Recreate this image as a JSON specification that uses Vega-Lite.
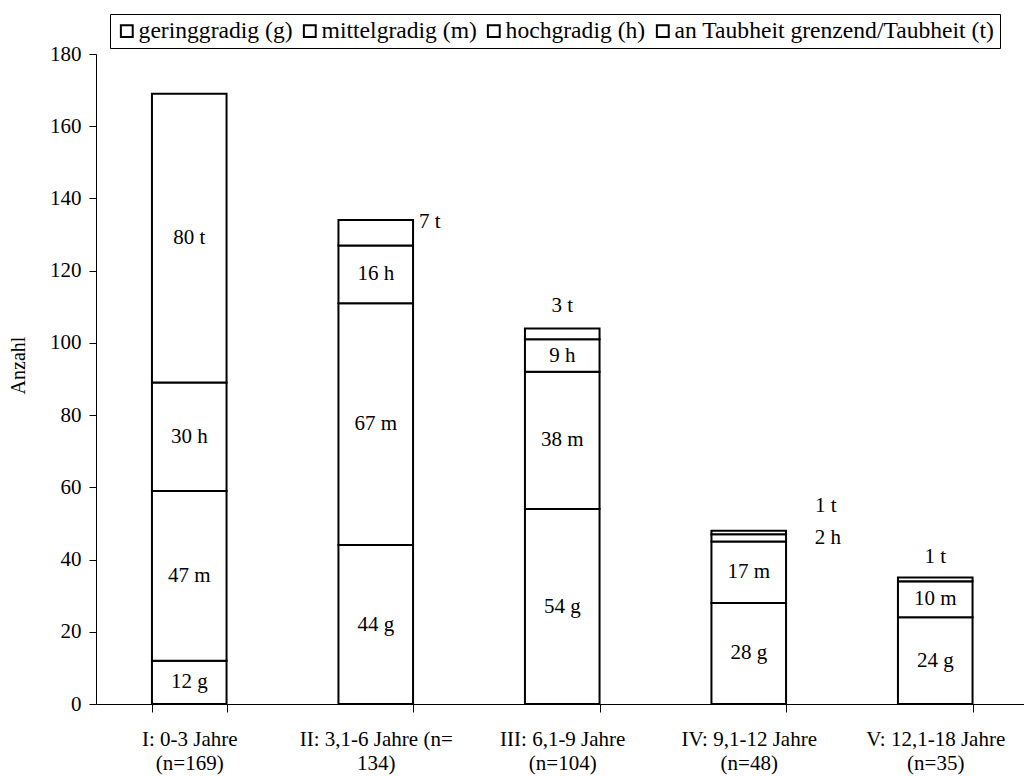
{
  "$schema": "https://vega.github.io/schema/vega-lite/v6.json",
  "autosize": "none",
  "width": 928,
  "height": 650,
  "padding": {"left": 96, "top": 54, "right": 0, "bottom": 72},
  "background": "white",
  "config": {
    "font": "Liberation Serif",
    "view": {"stroke": null},
    "axis": {"grid": false, "domainColor": "black", "tickColor": "black", "labelColor": "black", "titleColor": "black", "domainWidth": 1, "tickWidth": 1},
    "text": {"font": "Liberation Serif", "fontSize": 21, "color": "black", "baseline": "middle", "align": "center"}
  },
  "datasets": {
    "gruppen": [
      {"Stufe": "I", "Gruppe": "I: 0-3 Jahre\n(n=169)"},
      {"Stufe": "II", "Gruppe": "II: 3,1-6 Jahre  (n=\n134)"},
      {"Stufe": "III", "Gruppe": "III: 6,1-9 Jahre\n(n=104)"},
      {"Stufe": "IV", "Gruppe": "IV: 9,1-12 Jahre\n(n=48)"},
      {"Stufe": "V", "Gruppe": "V: 12,1-18 Jahre\n(n=35)"}
    ],
    "grade": [
      {"Kurz": "g", "Grad": "geringgradig (g)"},
      {"Kurz": "m", "Grad": "mittelgradig (m)"},
      {"Kurz": "h", "Grad": "hochgradig (h)"},
      {"Kurz": "t", "Grad": "an Taubheit grenzend/Taubheit (t)"}
    ],
    "werte": [
      {"Stufe": "I", "Kurz": "g", "Anzahl": 12},
      {"Stufe": "I", "Kurz": "m", "Anzahl": 47},
      {"Stufe": "I", "Kurz": "h", "Anzahl": 30},
      {"Stufe": "I", "Kurz": "t", "Anzahl": 80},
      {"Stufe": "II", "Kurz": "g", "Anzahl": 44},
      {"Stufe": "II", "Kurz": "m", "Anzahl": 67},
      {"Stufe": "II", "Kurz": "h", "Anzahl": 16},
      {"Stufe": "II", "Kurz": "t", "Anzahl": 7},
      {"Stufe": "III", "Kurz": "g", "Anzahl": 54},
      {"Stufe": "III", "Kurz": "m", "Anzahl": 38},
      {"Stufe": "III", "Kurz": "h", "Anzahl": 9},
      {"Stufe": "III", "Kurz": "t", "Anzahl": 3},
      {"Stufe": "IV", "Kurz": "g", "Anzahl": 28},
      {"Stufe": "IV", "Kurz": "m", "Anzahl": 17},
      {"Stufe": "IV", "Kurz": "h", "Anzahl": 2},
      {"Stufe": "IV", "Kurz": "t", "Anzahl": 1},
      {"Stufe": "V", "Kurz": "g", "Anzahl": 24},
      {"Stufe": "V", "Kurz": "m", "Anzahl": 10},
      {"Stufe": "V", "Kurz": "h", "Anzahl": 0},
      {"Stufe": "V", "Kurz": "t", "Anzahl": 1}
    ]
  },
  "data": {"name": "werte"},
  "transform": [
    {"lookup": "Stufe", "from": {"data": {"name": "gruppen"}, "key": "Stufe", "fields": ["Gruppe"]}},
    {"lookup": "Kurz", "from": {"data": {"name": "grade"}, "key": "Kurz", "fields": ["Grad"]}},
    {"calculate": "indexof(['g','m','h','t'], datum.Kurz)", "as": "Rang"},
    {"stack": "Anzahl", "groupby": ["Stufe"], "sort": [{"field": "Rang", "order": "ascending"}], "as": ["y0", "y1"]},
    {"calculate": "(datum.y0 + datum.y1) / 2", "as": "mid"},
    {"calculate": "datum.Anzahl + ' ' + datum.Kurz", "as": "Beschriftung"}
  ],
  "encoding": {
    "x": {
      "field": "Gruppe",
      "type": "nominal",
      "scale": {
        "domain": ["I: 0-3 Jahre\n(n=169)", "II: 3,1-6 Jahre  (n=\n134)", "III: 6,1-9 Jahre\n(n=104)", "IV: 9,1-12 Jahre\n(n=48)", "V: 12,1-18 Jahre\n(n=35)"],
        "range": [0, 932.5],
        "paddingInner": 0.6,
        "paddingOuter": 0.3
      },
      "axis": {
        "title": null,
        "labelAngle": 0,
        "labelExpr": "split(datum.label, '\\n')",
        "labelFontSize": 21,
        "labelLineHeight": 24,
        "labelPadding": 16,
        "tickSize": 8,
        "tickBand": "extent",
        "labelLimit": 300
      }
    }
  },
  "layer": [
    {
      "mark": {"type": "bar", "stroke": "black", "strokeWidth": 2, "strokeJoin": "miter"},
      "encoding": {
        "y": {
          "field": "y1",
          "type": "quantitative",
          "title": "Anzahl",
          "scale": {"domain": [0, 180], "nice": false},
          "axis": {
            "values": [0, 20, 40, 60, 80, 100, 120, 140, 160, 180],
            "labelFontSize": 21,
            "labelPadding": 8,
            "tickSize": 7,
            "titleFontSize": 20,
            "titleFontWeight": "normal",
            "titlePadding": 21,
            "titleY": 311
          }
        },
        "y2": {"field": "y0"},
        "color": {
          "field": "Grad",
          "type": "nominal",
          "scale": {
            "domain": ["geringgradig (g)", "mittelgradig (m)", "hochgradig (h)", "an Taubheit grenzend/Taubheit (t)"],
            "range": ["white", "white", "white", "white"]
          },
          "legend": {
            "title": null,
            "orient": "none",
            "direction": "horizontal",
            "legendX": 14,
            "legendY": -40,
            "padding": 5,
            "symbolOffset": 0,
            "strokeColor": "black",
            "fillColor": "white",
            "symbolType": "square",
            "symbolSize": 140,
            "symbolFillColor": "white",
            "symbolStrokeColor": "black",
            "symbolStrokeWidth": 2,
            "labelFontSize": 23.6,
            "labelFont": "Liberation Serif",
            "labelColor": "black",
            "labelOffset": 0,
            "columnPadding": 5,
            "labelLimit": 500
          }
        }
      }
    },
    {
      "transform": [{"filter": "datum.Anzahl >= 9"}],
      "mark": {"type": "text"},
      "encoding": {
        "y": {"field": "mid", "type": "quantitative", "title": "Anzahl"},
        "text": {"field": "Beschriftung"}
      }
    },
    {
      "transform": [{"filter": "datum.Stufe == 'II' && datum.Kurz == 't'"}],
      "mark": {"type": "text", "dx": 54, "dy": 2},
      "encoding": {
        "y": {"field": "y1", "type": "quantitative", "title": "Anzahl"},
        "text": {"field": "Beschriftung"}
      }
    },
    {
      "transform": [{"filter": "datum.Stufe == 'III' && datum.Kurz == 't'"}],
      "mark": {"type": "text", "dy": -22},
      "encoding": {
        "y": {"field": "y1", "type": "quantitative", "title": "Anzahl"},
        "text": {"field": "Beschriftung"}
      }
    },
    {
      "transform": [{"filter": "datum.Stufe == 'IV' && datum.Kurz == 't'"}],
      "mark": {"type": "text", "dx": 77, "dy": -25},
      "encoding": {
        "y": {"field": "y1", "type": "quantitative", "title": "Anzahl"},
        "text": {"field": "Beschriftung"}
      }
    },
    {
      "transform": [{"filter": "datum.Stufe == 'IV' && datum.Kurz == 'h'"}],
      "mark": {"type": "text", "dx": 79, "dy": 0},
      "encoding": {
        "y": {"field": "mid", "type": "quantitative", "title": "Anzahl"},
        "text": {"field": "Beschriftung"}
      }
    },
    {
      "transform": [{"filter": "datum.Stufe == 'V' && datum.Kurz == 't'"}],
      "mark": {"type": "text", "dy": -21},
      "encoding": {
        "y": {"field": "y1", "type": "quantitative", "title": "Anzahl"},
        "text": {"field": "Beschriftung"}
      }
    }
  ]
}
